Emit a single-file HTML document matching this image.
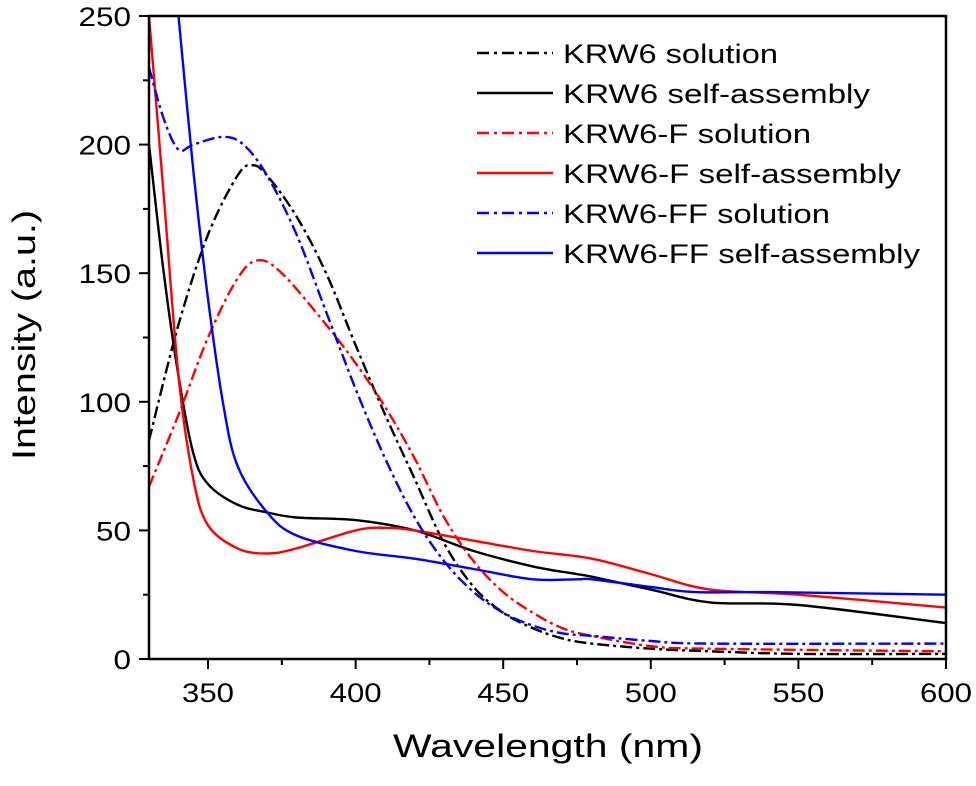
<!DOCTYPE html>
<html><head><meta charset="utf-8"><style>
body{margin:0;background:#fff}
svg text{font-family:"Liberation Sans",Arial,sans-serif}
</style></head><body>
<svg id="chart" width="976" height="781" xmlns="http://www.w3.org/2000/svg">
<defs><clipPath id="clip"><rect x="149" y="16" width="797" height="643"/></clipPath></defs>
<g id="curves" clip-path="url(#clip)"></g>
<g id="axes"></g>
<g id="legend"></g>
<text x="393" y="757" font-size="32" textLength="310" lengthAdjust="spacingAndGlyphs">Wavelength (nm)</text>
<text transform="translate(35,460) rotate(-90)" font-size="32" textLength="250" lengthAdjust="spacingAndGlyphs">Intensity (a.u.)</text>
</svg>
<script>
const seriesNames=["KRW6 solution","KRW6 self-assembly","KRW6-F solution","KRW6-F self-assembly","KRW6-FF solution","KRW6-FF self-assembly"];
const xTicks=[350,400,450,500,550,600];
const yTicks=[0,50,100,150,200,250];
const krw6SolX=[330,340,350,360,365,370,380,390,400,410,420,430,440,450,460,470,480,500,520,550,600];
const krw6SolY=[85,130,165,188,192,188,172,150,122,95,70,45,28,18,12,8,6,4,3,2,2];
const krw6SelfX=[330,335,340,345,350,360,370,380,400,420,440,460,475,480,500,520,550,600];
const krw6SelfY=[200,150,110,80,68,60,57,55,54,50,42,36,33,32,27,22,21,14];
const fSolX=[330,340,350,360,367,375,390,400,410,420,430,440,450,460,470,480,500,520,600];
const fSolY=[67,95,125,148,155,150,130,115,98,78,55,38,26,18,12,9,5,4,3];
const fSelfX=[330,335,340,345,350,360,370,380,400,410,420,440,460,480,500,520,550,600];
const fSelfY=[250,180,110,70,52,43,41,43,50,51,50,46,42,39,33,27,25,20];
const ffSolX=[330,335,340,345,355,362,370,380,390,400,410,420,430,440,450,460,470,480,500,520,600];
const ffSolY=[230,210,198,200,203,200,188,165,135,105,78,55,38,26,18,13,10,9,7,6,6];
const ffSelfX=[340,345,350,355,360,370,380,400,420,440,460,475,480,500,515,540,600];
const ffSelfY=[250,190,140,100,75,57,48,42,39,35,31,31,31,28,26,26,25];

const X=v=>149+(v-330)*797/270;
const Y=v=>659-v*643/250;
const NS="http://www.w3.org/2000/svg";
const series=[[krw6SolX,krw6SolY,"#000",true],[krw6SelfX,krw6SelfY,"#000",false],[fSolX,fSolY,"#f00",true],[fSelfX,fSelfY,"#f00",false],[ffSolX,ffSolY,"#00f",true],[ffSelfX,ffSelfY,"#00f",false]];
const legendWidths=[215,307,248,338,267,357];
function smooth(xs,ys){
  const p=xs.map((x,i)=>[X(x),Y(ys[i])]);
  let d='M'+p[0][0].toFixed(1)+','+p[0][1].toFixed(1);
  for(let i=0;i<p.length-1;i++){
    const p0=p[Math.max(0,i-1)],p1=p[i],p2=p[i+1],p3=p[Math.min(p.length-1,i+2)];
    const c1=[p1[0]+(p2[0]-p0[0])/6,p1[1]+(p2[1]-p0[1])/6];
    const c2=[p2[0]-(p3[0]-p1[0])/6,p2[1]-(p3[1]-p1[1])/6];
    d+='C'+c1.map(v=>v.toFixed(1)).join(',')+' '+c2.map(v=>v.toFixed(1)).join(',')+' '+p2.map(v=>v.toFixed(1)).join(',');
  }
  return d;
}
const cg=document.getElementById('curves');
series.forEach((s,i)=>{
  const p=document.createElementNS(NS,'path');
  p.setAttribute('d',smooth(s[0],s[1]));
  p.setAttribute('fill','none');p.setAttribute('stroke',s[2]);p.setAttribute('stroke-width','2.4');
  if(s[3])p.setAttribute('stroke-dasharray','12,4,3,4');
  
  
  cg.appendChild(p);
});
const ag=document.getElementById('axes');
function el(t,a,txt){const e=document.createElementNS(NS,t);for(const k in a)e.setAttribute(k,a[k]);if(txt!==undefined)e.textContent=txt;ag.appendChild(e);return e;}
const fr=el('rect',{x:149,y:16,width:797,height:643,fill:'none',stroke:'#000','stroke-width':2.5});


for(let v=350;v<=600;v+=25){const big=v%50===0;el('line',{x1:X(v),x2:X(v),y1:659,y2:659+(big?10:6),stroke:'#000','stroke-width':2});}
for(let v=0;v<=250;v+=25){const big=v%50===0;el('line',{x1:149,x2:149-(big?10:6),y1:Y(v),y2:Y(v),stroke:'#000','stroke-width':2});}
xTicks.forEach(v=>{const t=el('text',{x:X(v)-26,y:702,'font-size':27,textLength:52,lengthAdjust:'spacingAndGlyphs'},String(v));

});
yTicks.forEach(v=>{const s=String(v);const w=s.length*17.5;const t=el('text',{x:131-w,y:Y(v)+10,'font-size':27,textLength:w,lengthAdjust:'spacingAndGlyphs'},s);

});
const lg=document.getElementById('legend');
seriesNames.forEach((n,i)=>{
  const y=53+i*40;
  const l=document.createElementNS(NS,'line');
  l.setAttribute('x1',477);l.setAttribute('x2',553);l.setAttribute('y1',y);l.setAttribute('y2',y);
  l.setAttribute('stroke',series[i][2]);l.setAttribute('stroke-width',2.4);
  if(series[i][3])l.setAttribute('stroke-dasharray','12,5,3,5');
  
  
  lg.appendChild(l);
  const t=document.createElementNS(NS,'text');
  t.setAttribute('x',563);t.setAttribute('y',y+10);t.setAttribute('font-size',27);
  t.setAttribute('textLength',legendWidths[i]);t.setAttribute('lengthAdjust','spacingAndGlyphs');
  t.textContent=n;
  
  
  lg.appendChild(t);
});
</script>
</body></html>
